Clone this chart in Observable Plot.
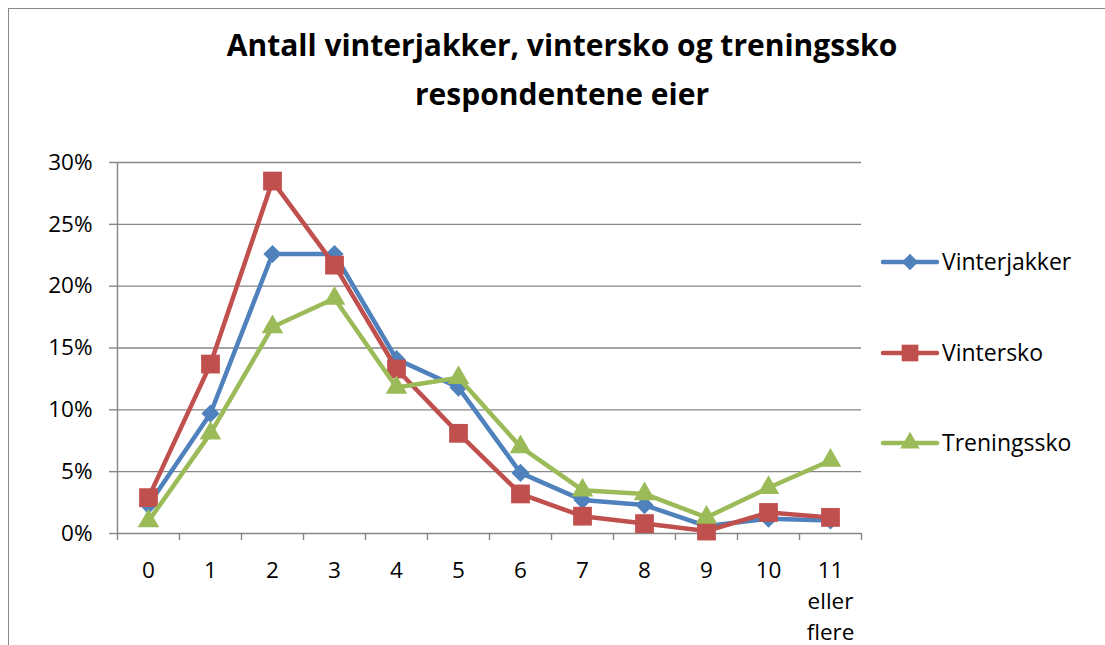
<!DOCTYPE html>
<html>
<head>
<meta charset="utf-8">
<script src="https://cdn.jsdelivr.net/npm/d3@7"></script>
<script src="https://cdn.jsdelivr.net/npm/@observablehq/plot@0.6"></script>
<style>
  html, body { margin: 0; padding: 0; background: #fff; }
  #wrap { position: relative; width: 1105px; height: 645px; overflow: hidden; font-family: "Open Sans", sans-serif; }
  #frame { position: absolute; left: 8px; top: 8px; width: 1120px; height: 660px; border: 1.5px solid #888; box-sizing: border-box; }
  #title { position: absolute; left: 162px; width: 800px; top: 20px; text-align: center; font-weight: bold; font-size: 30px; line-height: 49px; color: #000; }
  #chart { position: absolute; left: 0; top: 0; }
  #legend { position: absolute; left: 0; top: 0; }
</style>
</head>
<body>
<div id="wrap">
  <div id="frame"></div>
  <div id="chart"></div>
  <div id="title">Antall vinterjakker, vintersko og treningssko<br>respondentene eier</div>
  <div id="legend"></div>
</div>
<script>
const categories = ["0", "1", "2", "3", "4", "5", "6", "7", "8", "9", "10", "11\neller\nflere"];
const seriesNames = ["Vinterjakker", "Vintersko", "Treningssko"];
const vinterjakker = [0.023, 0.097, 0.226, 0.226, 0.141, 0.118, 0.049, 0.027, 0.023, 0.006, 0.012, 0.0105];
const vintersko    = [0.029, 0.137, 0.285, 0.217, 0.133, 0.081, 0.032, 0.014, 0.008, 0.002, 0.017, 0.013];
const treningssko  = [0.010, 0.081, 0.167, 0.190, 0.118, 0.126, 0.070, 0.035, 0.032, 0.013, 0.037, 0.059];
const yTicks = [0, 0.05, 0.10, 0.15, 0.20, 0.25, 0.30];
const colors = ["#4F81BD", "#C0504D", "#9BBB59"];
const symbols = ["diamond2", "square", "triangle"];
const radii = [8.2, 10.6, 8.0];

const allValues = [vinterjakker, vintersko, treningssko];
const data = allValues.map((vals, s) => vals.map((v, i) => ({series: seriesNames[s], i, v})));

const grid = "#868686";
const marks = [
  Plot.gridY(yTicks.slice(1), {stroke: grid, strokeOpacity: 1, strokeWidth: 1.4}),
  Plot.ruleX([-0.5], {stroke: grid, strokeWidth: 1.4}),
  Plot.ruleY([0], {stroke: grid, strokeWidth: 1.4}),
  Plot.axisY({ticks: yTicks, tickSize: 8, tickPadding: 17, tickFormat: d3.format(".0%"), stroke: grid, strokeWidth: 1.4, fontSize: 22.5, fill: "#000", label: null}),
  Plot.axisX({ticks: d3.range(13).map(k => k - 0.5), tickSize: 7, tickFormat: () => "", stroke: grid, strokeWidth: 1.4, label: null}),
  Plot.axisX({ticks: d3.range(12), tickSize: 0, tickPadding: 22, tickFormat: i => categories[i], fontSize: 22.5, lineHeight: 1.38, fill: "#000", label: null})
];
data.forEach((d, s) => {
  marks.push(Plot.line(d, {x: "i", y: "v", stroke: colors[s], strokeWidth: 4.5, strokeLinejoin: "round", strokeLinecap: "round"}));
  marks.push(Plot.dot(d, {x: "i", y: "v", fill: colors[s], stroke: "none", symbol: symbols[s], r: radii[s]}));
});

const chart = Plot.plot({
  width: 1105,
  height: 645,
  marginLeft: 117,
  marginRight: 244,
  marginTop: 162,
  marginBottom: 112,
  style: {fontFamily: "'Open Sans', sans-serif", background: "transparent", overflow: "visible"},
  x: {type: "linear", domain: [-0.5, 11.5], axis: null},
  y: {domain: [0, 0.30], axis: null},
  marks
});
document.getElementById("chart").appendChild(chart);

// Legend
const legendY = [262, 353, 443];
const lsvg = d3.create("svg").attr("width", 1105).attr("height", 645).style("overflow", "visible");
seriesNames.forEach((name, s) => {
  const g = lsvg.append("g").attr("transform", `translate(0,${legendY[s]})`);
  g.append("line").attr("x1", 883).attr("x2", 937).attr("y1", 0).attr("y2", 0)
    .attr("stroke", colors[s]).attr("stroke-width", 4.5).attr("stroke-linecap", "round");
  const sym = {diamond2: d3.symbolDiamond2, square: d3.symbolSquare, triangle: d3.symbolTriangle}[symbols[s]];
  const size = [Math.PI * 7.4 * 7.4, Math.PI * 9.4 * 9.4, Math.PI * 7.2 * 7.2][s];
  g.append("path").attr("d", d3.symbol(sym, size)()).attr("transform", "translate(910,0)").attr("fill", colors[s]);
  g.append("text").attr("x", 942).attr("y", 0).attr("dy", "0.35em")
    .attr("font-family", "'Open Sans', sans-serif").attr("font-size", 23).attr("fill", "#000").text(name);
});
document.getElementById("legend").appendChild(lsvg.node());
</script>
</body>
</html>
